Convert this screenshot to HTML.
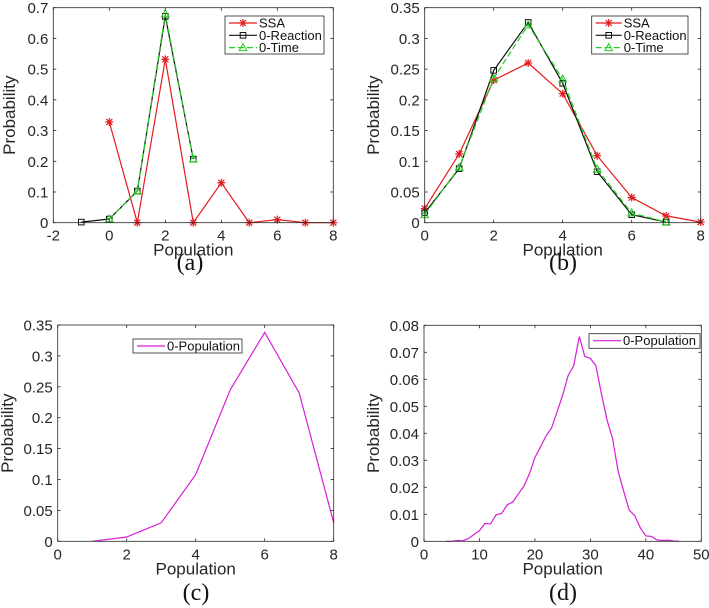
<!DOCTYPE html>
<html><head><meta charset="utf-8"><style>
body{margin:0;background:#fff;}
svg{display:block;font-family:"Liberation Sans",Arial,sans-serif;}
</style></head><body>
<svg id="fig" width="709" height="608" viewBox="0 0 709 608"></svg>
<script>
// Panel (a)
const aSsaX=[0,1,2,3,4,5,6,7,8];
const aSsaY=[0.328,0,0.532,0,0.13,0,0.01,0,0];
const aReacX=[-1,0,1,2,3];
const aReacY=[0.002,0.012,0.103,0.672,0.207];
const aTimeX=[0,1,2,3];
const aTimeY=[0.012,0.103,0.68,0.207];
const aXTicks=[-2,0,2,4,6,8];
const aYTicks=[0,0.1,0.2,0.3,0.4,0.5,0.6,0.7];
// Panel (b)
const bSsaX=[0,1,2,3,4,5,6,7,8];
const bSsaY=[0.023,0.112,0.232,0.26,0.21,0.109,0.041,0.011,0.001];
const bReacX=[0,1,2,3,4,5,6,7];
const bReacY=[0.016,0.088,0.248,0.326,0.227,0.083,0.013,0.001];
const bTimeX=[0,1,2,3,4,5,6,7];
const bTimeY=[0.013,0.09,0.235,0.322,0.234,0.087,0.016,0.001];
const bXTicks=[0,2,4,6,8];
const bYTicks=[0,0.05,0.1,0.15,0.2,0.25,0.3,0.35];
// Panel (c)
const cX=[1,2,3,4,5,6,7,8];
const cY=[0,0.007,0.03,0.108,0.245,0.338,0.24,0.03];
const cXTicks=[0,2,4,6,8];
const cYTicks=[0,0.05,0.1,0.15,0.2,0.25,0.3,0.35];
// Panel (d)
const dX=[4,5,6,7,8,9,10,11,12,13,14,15,16,17,18,19,20,21,22,23,24,25,26,27,28,29,30,31,32,33,34,35,36,37,38,39,40,41,42,43,44,45,46];
const dY=[0,0,0.0003,0.0002,0.001,0.0025,0.004,0.0066,0.0065,0.0098,0.0103,0.0135,0.0145,0.0175,0.0203,0.025,0.031,0.035,0.039,0.042,0.048,0.054,0.0615,0.065,0.0758,0.0685,0.0677,0.065,0.0545,0.045,0.038,0.026,0.0185,0.0115,0.0095,0.005,0.002,0.0018,0.0005,0.0003,0.0004,0.0001,0];
const dXTicks=[0,10,20,30,40,50];
const dYTicks=[0,0.01,0.02,0.03,0.04,0.05,0.06,0.07,0.08];

const NS="http://www.w3.org/2000/svg";
const svg=document.getElementById('fig');
function el(tag,attrs,parent){const e=document.createElementNS(NS,tag);for(const k in attrs)e.setAttribute(k,attrs[k]);(parent||svg).appendChild(e);return e;}

function panel(p){
  const g=el('g',{});
  
  
  const sx=v=>p.x0+(v-p.xmin)/(p.xmax-p.xmin)*(p.x1-p.x0);
  const sy=v=>p.y0-(v-p.ymin)/(p.ymax-p.ymin)*(p.y0-p.y1);
  p.series.forEach(s=>{
    const pts=s.x.map((v,i)=>sx(v).toFixed(1)+','+sy(s.y[i]).toFixed(1)).join(' ');
    const line=el('polyline',{points:pts,fill:'none',stroke:s.color,'stroke-width':1.2});
    
    
    if(s.dash) line.setAttribute('stroke-dasharray',s.dash);
    g.appendChild(line);
    if(s.marker){
      s.x.forEach((v,i)=>{
        const m=marker(s.marker,sx(v),sy(s.y[i]),s.color,g);
        
        
      });
    }
  });
  const box=el('rect',{x:p.x0,y:p.y1,width:p.x1-p.x0,height:p.y0-p.y1,fill:'none',stroke:'#262626','stroke-width':0.8},g);
  
  
  p.xt.forEach(v=>{
    const x=sx(v);
    el('line',{x1:x,x2:x,y1:p.y0,y2:p.y0-3,stroke:'#262626','stroke-width':0.8},g);
    el('line',{x1:x,x2:x,y1:p.y1,y2:p.y1+3,stroke:'#262626','stroke-width':0.8},g);
    const t=el('text',{x:x,y:p.y0+18,'text-anchor':'middle','font-size':15,fill:'#262626'},g);
    t.textContent=String(v);
    
    
  });
  p.yt.forEach(v=>{
    const y=sy(v);
    el('line',{x1:p.x0,x2:p.x0+3,y1:y,y2:y,stroke:'#262626','stroke-width':0.8},g);
    el('line',{x1:p.x1,x2:p.x1-3,y1:y,y2:y,stroke:'#262626','stroke-width':0.8},g);
    const t=el('text',{x:p.x0-5,y:y+5.5,'text-anchor':'end','font-size':15,fill:'#262626'},g);
    t.textContent=String(v);
    
    
  });
  const xl=el('text',{x:(p.x0+p.x1)/2,y:p.y0+33,'text-anchor':'middle','font-size':17,fill:'#262626'},g);
  xl.textContent='Population';
  
  
  const yl=el('text',{x:0,y:0,'text-anchor':'middle','font-size':17,fill:'#262626',transform:'translate('+(p.ylx)+','+((p.y0+p.y1)/2)+') rotate(-90)'},g);
  yl.textContent='Probability';
  
  
  const cap=el('text',{x:p.capx,y:p.capy,'text-anchor':'middle','font-size':24,fill:'#111','font-family':'Liberation Serif, serif'},g);
  cap.textContent='('+p.id+')';
  
  
  const L=p.legend;
  const lg=el('g',{},g);
  
  
  el('rect',{x:L.x,y:L.y,width:L.w,height:L.h,fill:'#fff',stroke:'#262626','stroke-width':0.8},lg);
  p.series.forEach((s,i)=>{
    const yy=L.y+7+i*12.3;
    const en=el('g',{},lg);
    
    
    const ln=el('line',{x1:L.x+4,x2:L.x+L.lw,y1:yy,y2:yy,stroke:s.color,'stroke-width':1.2},en);
    if(s.dash) ln.setAttribute('stroke-dasharray',s.dash);
    if(s.marker) marker(s.marker,L.x+4+(L.lw-4)/2,yy,s.color,en);
    const t=el('text',{x:L.x+L.lw+2,y:yy+4.5,'font-size':13,fill:'#111'},en);
    t.textContent=s.label;
  });
}
function marker(type,x,y,c,g){
  if(type==='star'){
    const m=el('g',{stroke:c,'stroke-width':1.2},g);
    [[0,4],[4,0],[3,3],[3,-3]].forEach(d=>el('line',{x1:x-d[0],y1:y-d[1],x2:x+d[0],y2:y+d[1]},m));
    return m;
  }
  if(type==='square') return el('rect',{x:x-2.8,y:y-2.8,width:5.6,height:5.6,fill:'none',stroke:c,'stroke-width':1},g);
  if(type==='tri') return el('polygon',{points:(x)+','+(y-4)+' '+(x-3.8)+','+(y+3)+' '+(x+3.8)+','+(y+3),fill:'none',stroke:c,'stroke-width':1},g);
}
panel({id:'a',x0:53.3,x1:333.3,y0:222.7,y1:7.7,xmin:-2,xmax:8,ymin:0,ymax:0.7,xt:aXTicks,yt:aYTicks,ylx:15,capx:190,capy:270,
  legend:{x:225,y:16,w:99,h:38,lw:32},
  series:[{name:'ssa',label:'SSA',x:aSsaX,y:aSsaY,color:'#e41a1c',marker:'star'},
          {name:'zero-reaction',label:'0-Reaction',x:aReacX,y:aReacY,color:'#111',marker:'square'},
          {name:'zero-time',label:'0-Time',x:aTimeX,y:aTimeY,color:'#22d022',marker:'tri',dash:'6,3'}]});
panel({id:'b',x0:424.7,x1:700.7,y0:222.7,y1:7.7,xmin:0,xmax:8,ymin:0,ymax:0.35,xt:bXTicks,yt:bYTicks,ylx:379,capx:563,capy:270,
  legend:{x:591.7,y:16,w:96.3,h:38,lw:30},
  series:[{name:'ssa',label:'SSA',x:bSsaX,y:bSsaY,color:'#e41a1c',marker:'star'},
          {name:'zero-reaction',label:'0-Reaction',x:bReacX,y:bReacY,color:'#111',marker:'square'},
          {name:'zero-time',label:'0-Time',x:bTimeX,y:bTimeY,color:'#22d022',marker:'tri',dash:'6,3'}]});
panel({id:'c',x0:57.7,x1:333.7,y0:541.3,y1:325,xmin:0,xmax:8,ymin:0,ymax:0.35,xt:cXTicks,yt:cYTicks,ylx:13,capx:196,capy:600,
  legend:{x:133,y:339,w:109,h:14,lw:32},
  series:[{name:'zero-population',label:'0-Population',x:cX,y:cY,color:'#d61ed6'}]});
panel({id:'d',x0:424,x1:701.3,y0:541.3,y1:325.3,xmin:0,xmax:50,ymin:0,ymax:0.08,xt:dXTicks,yt:dYTicks,ylx:379,capx:563,capy:600,
  legend:{x:589,y:333.7,w:111,h:14.6,lw:32},
  series:[{name:'zero-population',label:'0-Population',x:dX,y:dY,color:'#d61ed6'}]});
</script>
</body></html>
